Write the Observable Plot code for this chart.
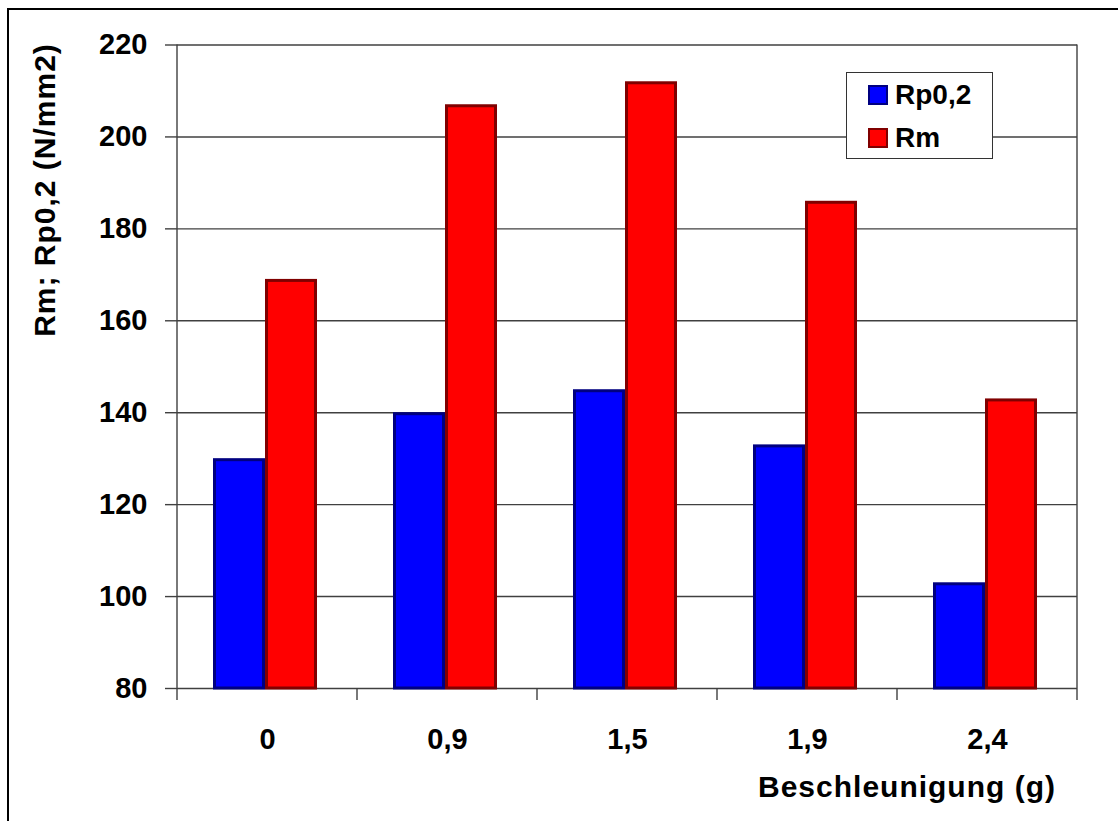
<!DOCTYPE html>
<html>
<head>
<meta charset="utf-8">
<script src="https://cdn.jsdelivr.net/npm/d3@7"></script>
<script src="https://cdn.jsdelivr.net/npm/@observablehq/plot@0.6"></script>
<style>
  body { margin: 0; background: #fff; overflow: hidden; }
  #wrap { position: relative; width: 1118px; height: 821px; overflow: hidden;
          font-family: "Liberation Sans", Arial, sans-serif; font-weight: bold; }
  #border { position: absolute; left: 7px; top: 8px; width: 1300px; height: 1000px;
            border-left: 2px solid #000; border-top: 2px solid #000; pointer-events: none; }
  #chart { position: absolute; left: 0; top: 0; }
  #legend { position: absolute; left: 846px; top: 72px; width: 145px; height: 85px;
            border: 1.5px solid #333; background: #fff; }
  .item { position: absolute; left: 21px; height: 24px; display: flex; align-items: center; }
  .sw { width: 16px; height: 16px; border: 2.5px solid; margin-right: 7px; }
  .lab { font-size: 28px; line-height: 24px; color: #000; }
</style>
</head>
<body>
<div id="wrap">
  <div id="chart"></div>
  <div id="border"></div>
  <div id="legend"></div>
</div>
<script>
// ---- data ----
const categories = ["0", "0,9", "1,5", "1,9", "2,4"];
const seriesNames = ["Rp0,2", "Rm"];
const rp02 = [130, 140, 145, 133, 103];
const rm = [169, 207, 212, 186, 143];
const yTicks = [80, 100, 120, 140, 160, 180, 200, 220];
const fills = ["#0000ff", "#ff0000"];
const strokes = ["#000080", "#800000"];
const yTitle = "Rm; Rp0,2 (N/mm2)";
const xTitle = "Beschleunigung (g)";

const rows = [];
categories.forEach((c, i) => {
  rows.push({cat: c, series: seriesNames[0], value: rp02[i]});
  rows.push({cat: c, series: seriesNames[1], value: rm[i]});
});

const lineColor = "#404040";
const yMin = yTicks[0], yMax = yTicks[yTicks.length - 1];

const barMarks = seriesNames.map((s, k) =>
  Plot.barY(rows.filter(d => d.series === s), {
    fx: "cat", x: "series", y1: yMin, y2: "value",
    fill: fills[k], stroke: strokes[k], strokeWidth: 3,
    insetLeft: 1.5, insetRight: 1.5, insetTop: 1.5
  })
);

const chart = Plot.plot({
  width: 1118, height: 821,
  marginLeft: 177, marginRight: 41, marginTop: 44.5, marginBottom: 133,
  style: {fontFamily: '"Liberation Sans", Arial, sans-serif', fontWeight: "bold", color: "#000", background: "transparent"},
  fx: {domain: categories, padding: 0},
  x: {domain: seriesNames, paddingInner: 0, paddingOuter: 0.73, align: 0.47, axis: null},
  y: {domain: [yMin, yMax]},
  marks: [
    Plot.ruleY(yTicks, {stroke: lineColor, strokeWidth: 1.4}),
    ...barMarks,
    Plot.axisY(yTicks, {tickSize: 12, tickPadding: 18, fontSize: 29, label: null, stroke: lineColor, strokeWidth: 1.4, fill: "#000"}),
    Plot.axisFx({anchor: "bottom", tickSize: 0, tickPadding: 40, fontSize: 29, label: null, fill: "#000"})
  ]
});
document.getElementById("chart").appendChild(chart);

// boundary ticks, side lines and axis titles via the fx / y scales
const svg = d3.select(chart);
const fx = chart.scale("fx");
const ys = chart.scale("y");
const yTop = ys.apply(yMax), yBot = ys.apply(yMin);
const bounds = categories.map(c => fx.apply(c));
bounds.push(fx.apply(categories[categories.length - 1]) + fx.bandwidth);
const g = svg.append("g").attr("stroke", lineColor).attr("stroke-width", 1.4);
bounds.forEach((bx, i) => {
  const isEdge = i === 0 || i === bounds.length - 1;
  g.append("line").attr("x1", bx).attr("x2", bx)
    .attr("y1", isEdge ? yTop : yBot).attr("y2", yBot + 12);
});

svg.append("text")
  .attr("transform", `translate(55,190) rotate(-90)`)
  .attr("text-anchor", "middle")
  .attr("font-size", 30).attr("font-weight", "bold").attr("letter-spacing", 1)
  .attr("fill", "#000").text(yTitle);

svg.append("text")
  .attr("x", 1056).attr("y", 797)
  .attr("text-anchor", "end")
  .attr("font-size", 30).attr("font-weight", "bold").attr("letter-spacing", 1)
  .attr("fill", "#000").text(xTitle);

// legend
const legend = document.getElementById("legend");
seriesNames.forEach((s, k) => {
  const it = document.createElement("div");
  it.className = "item";
  it.style.top = (10 + k * 43) + "px";
  it.innerHTML = `<div class="sw" style="background:${fills[k]};border-color:${strokes[k]}"></div><span class="lab">${s}</span>`;
  legend.appendChild(it);
});
</script>
</body>
</html>
